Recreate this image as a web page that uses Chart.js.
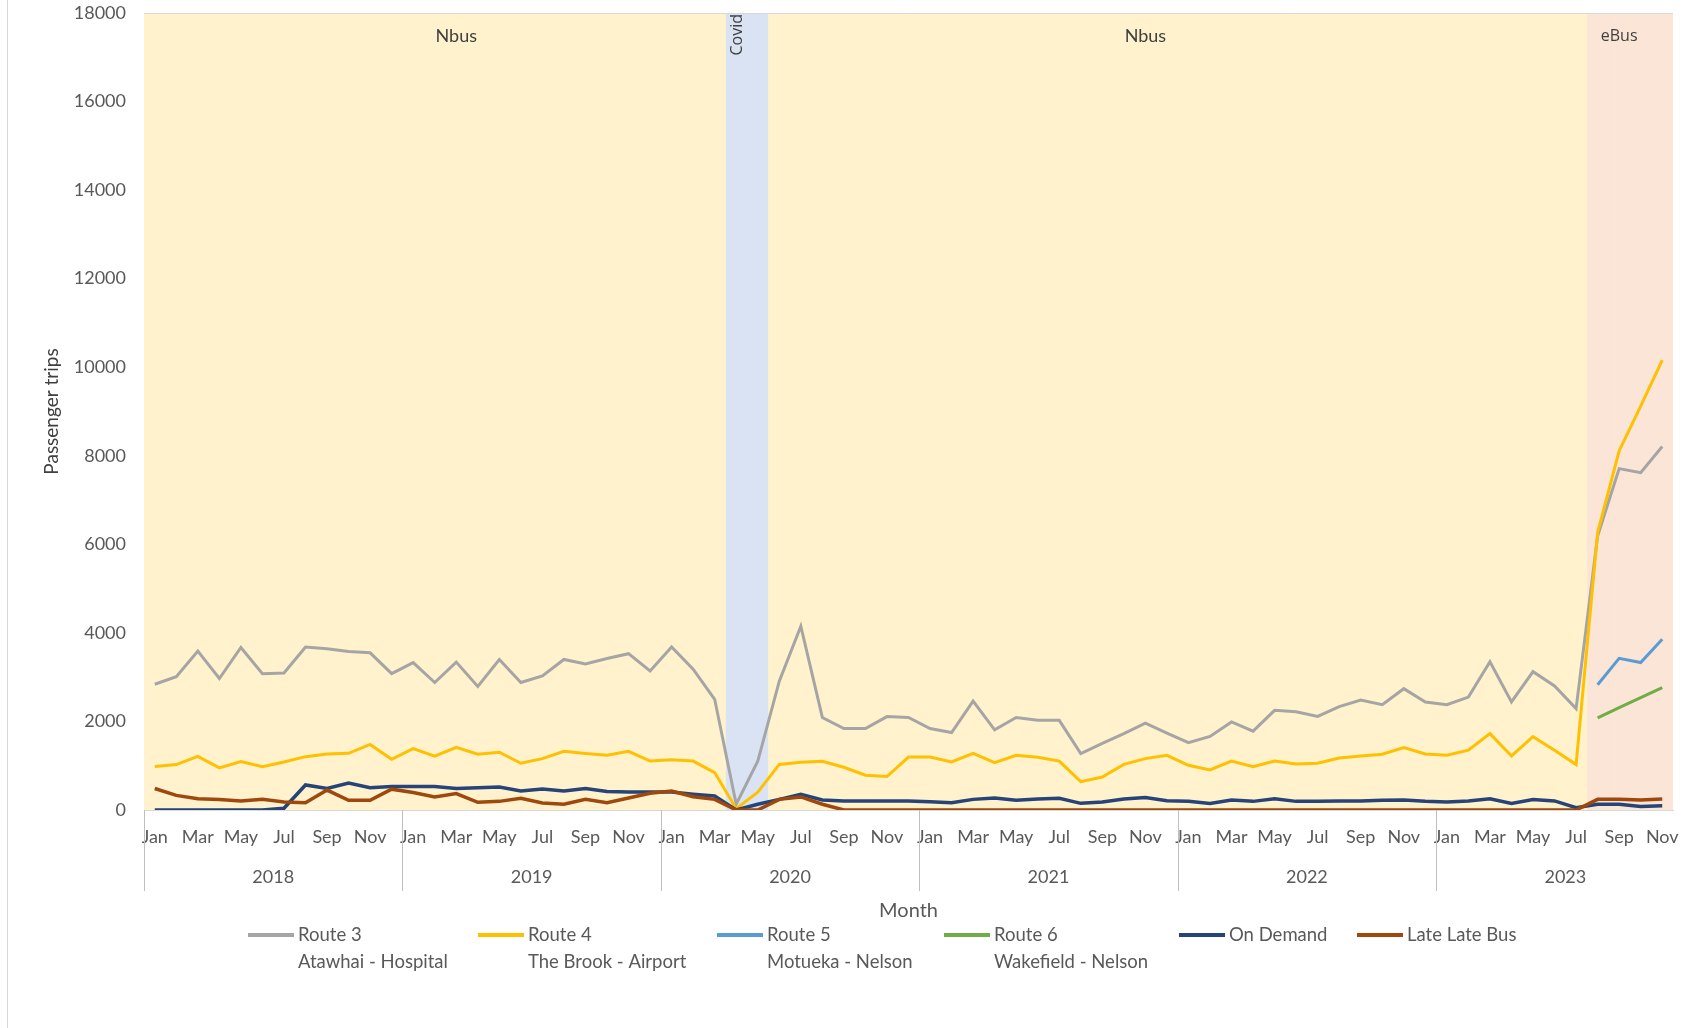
<!DOCTYPE html>
<html>
<head>
<meta charset="utf-8">
<title>Passenger trips by month</title>
<script src="https://cdn.jsdelivr.net/npm/chart.js@4.4.1/dist/chart.umd.min.js"></script>
<style>
  html, body { margin: 0; padding: 0; background: #fff; }
</style>
</head>
<body>
<canvas id="chart" width="1700" height="1028"></canvas>
<script>
// categories
const years = [2018, 2019, 2020, 2021, 2022, 2023];
const monthNames = ['Jan', 'Feb', 'Mar', 'Apr', 'May', 'Jun', 'Jul', 'Aug', 'Sep', 'Oct', 'Nov', 'Dec'];
const monthsInLastYear = 11; // data runs to Nov 2023

const categories = [];
years.forEach((yr, k) => {
    const n = k === years.length - 1 ? monthsInLastYear : 12;
    for (let m = 0; m < n; m++) categories.push(monthNames[m] + ' ' + yr);
});

// series (passenger trips per month)
const route3 = [
    2840, 3010, 3590, 2970, 3670, 3080, 3095, 3680, 3640, 3580, 3550, 3080,
    3330, 2880, 3340, 2790, 3400, 2880, 3030, 3400, 3300, 3420, 3530, 3140,
    3680, 3180, 2500, 130, 1100, 2910, 4150, 2090, 1840, 1840, 2110, 2090,
    1840, 1750, 2460, 1810, 2090, 2025, 2025, 1275, 1505, 1725, 1960, 1735,
    1520, 1660, 1990, 1780, 2250, 2220, 2115, 2335, 2485, 2380, 2740, 2440,
    2380, 2550, 3350, 2440, 3125, 2800, 2290, 6190, 7710, 7620, 8210
];
const route4 = [
    980, 1025, 1210, 950, 1095, 980, 1085, 1205, 1265, 1280, 1480, 1145,
    1385, 1215, 1415, 1260, 1305, 1055, 1160, 1325, 1275, 1235, 1325, 1105,
    1135, 1105, 845, 30, 405, 1030, 1080, 1100, 965, 785, 755, 1195,
    1195, 1085, 1280, 1070, 1235, 1190, 1105, 640, 745, 1030, 1160, 1235,
    1010, 905, 1105, 980, 1105, 1040, 1055, 1175, 1220, 1260, 1410, 1265,
    1235, 1350, 1725, 1220, 1655, 1350, 1025, 6265, 8110, 9120, 10160
];
const route5 = Array(67).fill(null).concat([2830, 3425, 3330, 3855]);
const route6 = Array(67).fill(null).concat([2080, 2310, 2540, 2765]);
const onDemand = [
    0, 0, 0, 0, 0, 0, 40, 565, 485, 610, 505, 530,
    530, 530, 485, 500, 520, 430, 475, 430, 485, 420, 405, 405,
    405, 355, 315, 0, 130, 240, 355, 225, 205, 205, 205, 205,
    185, 165, 240, 270, 220, 250, 265, 150, 180, 250, 280, 210,
    195, 145, 225, 195, 255, 195, 195, 205, 205, 220, 225, 195,
    180, 205, 255, 150, 235, 205, 50, 130, 130, 80, 95
];
const lateLateBus = [
    485, 330, 255, 235, 205, 240, 180, 165, 450, 220, 220, 470,
    395, 295, 370, 175, 195, 265, 160, 130, 240, 165, 270, 380,
    430, 300, 240, 0, 0, 240, 295, 130, 0, 0, 0, 0,
    0, 0, 0, 0, 0, 0, 0, 0, 0, 0, 0, 0,
    0, 0, 0, 0, 0, 0, 0, 0, 0, 0, 0, 0,
    0, 0, 0, 0, 0, 0, 0, 240, 240, 225, 250
];

const seriesNames = ['Route 3', 'Route 4', 'Route 5', 'Route 6', 'On Demand', 'Late Late Bus'];
const seriesSub = ['Atawhai - Hospital', 'The Brook - Airport', 'Motueka - Nelson', 'Wakefield - Nelson', '', ''];
const seriesData = [route3, route4, route5, route6, onDemand, lateLateBus];
const seriesColors = ['#A5A5A5', '#FFC000', '#5B9BD5', '#70AD47', '#264478', '#9E480E'];
const seriesWidths = [3, 3, 3, 3, 3.5, 3.5];

// service periods shaded behind the lines
const periodStart = [0, 27, 29, 67];
const periodName = ['Nbus', 'Covid', 'Nbus', 'eBus'];
const periodLabelAt = [14, 27, 46, 68];
const bandColors = { Nbus: '#FFF2CC', Covid: '#DAE3F3', eBus: '#FBE5D6' };

// y axis
const yMax = 18000;
const yStep = 2000;

// build band datasets: one bar per month, full height, coloured by period
function periodOf(i) {
    let p = 0;
    for (let k = 0; k < periodStart.length; k++) if (i >= periodStart[k]) p = k;
    return periodName[p];
}
const bandDatasets = Object.keys(bandColors).map(name => ({
    type: 'bar',
    label: name,
    data: categories.map((c, i) => periodOf(i) === name ? yMax : null),
    backgroundColor: bandColors[name],
    borderWidth: 0,
    barPercentage: 1,
    categoryPercentage: 1,
    grouped: false,
    order: 20
}));

const lineDatasets = seriesNames.map((name, k) => ({
    type: 'line',
    label: name,
    data: seriesData[k],
    borderColor: seriesColors[k],
    backgroundColor: seriesColors[k],
    borderWidth: seriesWidths[k],
    pointRadius: 0,
    tension: 0,
    spanGaps: false,
    order: seriesNames.length - k
}));

const TEXT = '#595959';
const LABEL_FONT = 'Lato, "Noto Sans", sans-serif';

// extra drawing: band labels, year groups, legend, frame
const decorPlugin = {
    id: 'decor',
    afterDraw(chart) {
        const { ctx, chartArea } = chart;
        const x = chart.scales.x;
        const step = x.getPixelForValue(1) - x.getPixelForValue(0);
        const edge = i => x.getPixelForValue(i) - step / 2;

        ctx.save();

        // outer frame line on the left, top border of plot
        ctx.strokeStyle = '#D9D9D9';
        ctx.lineWidth = 1;
        ctx.beginPath();
        ctx.moveTo(7.5, 0);
        ctx.lineTo(7.5, 1028);
        ctx.moveTo(chartArea.left, chartArea.top + 0.5);
        ctx.lineTo(chartArea.right, chartArea.top + 0.5);
        ctx.stroke();

        // band labels
        ctx.fillStyle = '#404040';
        periodName.forEach((name, k) => {
            const px = x.getPixelForValue(periodLabelAt[k]);
            if (name === 'Covid') {
                ctx.save();
                ctx.translate(px + 1, chartArea.top + 1);
                ctx.rotate(-Math.PI / 2);
                ctx.font = '16px "Open Sans", sans-serif';
                ctx.textAlign = 'right';
                ctx.textBaseline = 'middle';
                ctx.fillText(name, 0, 0);
                ctx.restore();
            } else {
                ctx.font = name === 'eBus' ? '16px "Open Sans", sans-serif' : '18px ' + LABEL_FONT;
                ctx.textAlign = 'center';
                ctx.textBaseline = 'middle';
                ctx.fillText(name, px, chartArea.top + 23);
            }
        });

        // year group dividers and labels (label centred on a full 12-month span)
        ctx.strokeStyle = '#BFBFBF';
        ctx.beginPath();
        let start = 0;
        years.forEach((yr, k) => {
            const n = k === years.length - 1 ? monthsInLastYear : 12;
            const lx = Math.round(edge(start)) + 0.5;
            ctx.moveTo(lx, chartArea.bottom);
            ctx.lineTo(lx, chartArea.bottom + 81);
            ctx.fillStyle = TEXT;
            ctx.font = '18px ' + LABEL_FONT;
            ctx.textAlign = 'center';
            ctx.textBaseline = 'middle';
            ctx.fillText(String(yr), (edge(start) + edge(start + 12)) / 2, chartArea.bottom + 67);
            start += n;
        });
        ctx.stroke();

        // legend (two-line entries)
        const legendX = [248, 478, 717, 944, 1179, 1357];
        const legendY = 935;
        seriesNames.forEach((name, k) => {
            const lx = legendX[k];
            ctx.strokeStyle = seriesColors[k];
            ctx.lineWidth = 4;
            ctx.beginPath();
            ctx.moveTo(lx, legendY);
            ctx.lineTo(lx + 46, legendY);
            ctx.stroke();
            ctx.fillStyle = TEXT;
            ctx.font = '18.5px ' + LABEL_FONT;
            ctx.textAlign = 'left';
            ctx.textBaseline = 'middle';
            ctx.fillText(name, lx + 50, legendY);
            if (seriesSub[k]) ctx.fillText(seriesSub[k], lx + 50, legendY + 27);
        });

        ctx.restore();
    }
};

new Chart(document.getElementById('chart'), {
    data: {
        labels: categories,
        datasets: bandDatasets.concat(lineDatasets)
    },
    options: {
        responsive: false,
        animation: false,
        layout: { padding: { left: 0, top: 13, right: 27, bottom: 0 } },
        plugins: {
            legend: { display: false },
            tooltip: { enabled: false }
        },
        scales: {
            x: {
                type: 'category',
                offset: true,
                grid: { display: false, drawTicks: false },
                border: { display: true, color: '#D9D9D9', width: 1 },
                ticks: {
                    autoSkip: false,
                    maxRotation: 0,
                    minRotation: 0,
                    padding: 16,
                    color: TEXT,
                    font: { family: LABEL_FONT, size: 18 },
                    callback: (v, i) => i % 2 === 0 ? monthNames[i % 12] : ''
                },
                title: {
                    display: true,
                    text: 'Month',
                    color: TEXT,
                    font: { family: LABEL_FONT, size: 20 },
                    padding: { top: 0, bottom: 105 }
                },
                afterFit: scale => { scale.height = 218; }
            },
            y: {
                min: 0,
                max: yMax,
                grid: { display: false, drawTicks: false },
                border: { display: true, color: '#BFBFBF', width: 1 },
                ticks: {
                    stepSize: yStep,
                    padding: 18,
                    color: TEXT,
                    font: { family: LABEL_FONT, size: 18 },
                    callback: v => String(v)
                },
                title: {
                    display: true,
                    text: 'Passenger trips',
                    color: '#404040',
                    font: { family: LABEL_FONT, size: 19 },
                    padding: { top: 40, bottom: 0 }
                },
                afterFit: scale => {
                    scale.width = 144;
                    scale.paddingTop = 0;
                }
            }
        }
    },
    plugins: [decorPlugin]
});
</script>
</body>
</html>
